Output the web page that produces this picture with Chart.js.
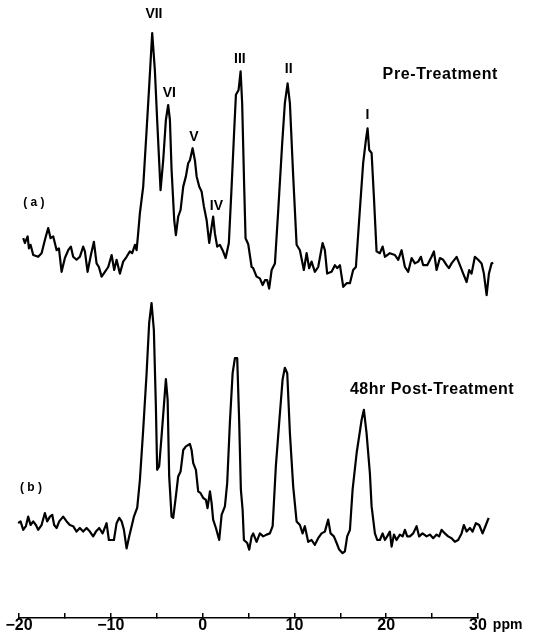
<!DOCTYPE html>
<html>
<head>
<meta charset="utf-8">
<script src="https://cdn.jsdelivr.net/npm/chart.js@4/dist/chart.umd.min.js"></script>
<style>
html,body{margin:0;padding:0;background:#fff;}
canvas{display:block;}
</style>
</head>
<body>
<canvas id="c" width="543" height="641"></canvas>
<script>
// Chemical shift (ppm) and intensity (arbitrary units, baseline ~0) for spectrum (a) Pre-Treatment
const ppmA = [-19.54,-19.36,-19.06,-18.92,-18.74,-18.45,-17.91,-17.54,-17.18,-16.82,-16.56,-16.27,-15.90,-15.65,-15.36,-15.00,-14.64,-14.35,-14.10,-13.73,-13.37,-13.01,-12.82,-12.53,-12.17,-11.84,-11.55,-11.30,-11.00,-10.64,-10.28,-9.91,-9.63,-9.37,-9.01,-8.65,-8.28,-7.92,-7.67,-7.37,-7.19,-7.02,-6.83,-6.47,-6.10,-5.82,-5.49,-5.20,-4.95,-4.58,-4.29,-4.00,-3.75,-3.56,-3.38,-3.09,-2.91,-2.66,-2.40,-2.11,-1.82,-1.57,-1.38,-1.09,-0.84,-0.65,-0.37,-0.11,0.14,0.44,0.72,0.98,1.15,1.34,1.59,1.88,2.18,2.51,2.86,3.16,3.41,3.63,3.92,4.14,4.31,4.53,4.68,4.97,5.34,5.51,5.88,6.24,6.54,6.79,7.04,7.25,7.52,7.88,8.24,8.67,8.96,9.26,9.51,9.87,10.24,10.60,11.03,11.33,11.61,11.87,12.23,12.59,13.07,13.32,13.57,14.05,14.41,14.66,14.96,15.32,15.69,16.05,16.40,16.70,17.13,17.49,17.79,17.97,18.15,18.41,18.66,18.95,19.31,19.61,19.86,20.40,20.95,21.31,21.68,22.04,22.40,22.77,23.13,23.49,23.78,24.03,24.47,24.94,25.20,25.49,25.85,26.21,26.58,26.83,27.12,27.67,28.03,28.39,28.76,29.04,29.30,29.66,30.02,30.39,30.64,30.94,31.19,31.48,31.66];
const intA = [3.3,2.5,3.6,1.6,2.2,0.5,0.2,0.8,3.0,5.0,3.3,3.6,1.3,1.6,-2.3,0.0,1.3,1.9,0.2,-0.3,0.2,1.9,1.1,-2.3,0.5,2.7,-0.9,-1.5,-3.1,-2.3,-1.5,0.5,-2.0,-0.3,-2.6,-0.6,0.2,1.1,0.8,2.2,1.3,4.1,7.5,11.9,21.3,28.6,37.5,31.3,23.0,11.3,16.3,23.0,25.5,23.0,14.7,6.3,3.8,6.9,8.0,11.9,13.6,15.8,16.3,18.3,16.3,13.6,11.9,11.1,8.6,6.3,2.5,5.2,6.9,4.1,1.9,2.2,1.3,0.0,2.5,11.9,20.2,27.2,28.0,31.1,25.8,11.9,3.3,2.3,-1.5,-1.7,-3.1,-3.4,-4.5,-3.7,-3.7,-5.1,-2.0,-0.9,8.0,19.1,25.8,29.1,25.8,13.6,2.2,1.3,-2.0,0.8,-1.7,-0.6,-2.3,-1.5,2.5,1.3,-2.6,-2.3,-1.2,-1.7,-1.2,-4.8,-4.2,-4.2,-2.0,-1.5,8.0,15.8,19.7,21.6,18.0,17.5,10.2,1.1,0.8,1.9,0.2,0.8,0.5,-0.3,1.3,-1.5,-2.3,0.0,-0.9,-0.6,0.2,-1.2,-1.2,0.2,1.1,-2.0,0.0,-0.3,-1.2,-1.7,-0.9,0.2,-1.2,-2.6,-4.0,-2.0,-2.6,0.2,-0.3,-0.9,-2.6,-6.2,-2.6,-0.9,-0.8];

// Spectrum (b) 48 hr Post-Treatment
const ppmB = [-20.09,-19.83,-19.54,-19.25,-19.00,-18.74,-18.45,-18.16,-17.91,-17.54,-17.18,-16.93,-16.63,-16.38,-16.17,-15.90,-15.62,-15.19,-14.81,-14.46,-14.10,-13.73,-13.37,-13.01,-12.64,-12.28,-11.92,-11.62,-11.26,-10.89,-10.46,-10.21,-9.66,-9.37,-9.08,-8.82,-8.57,-8.28,-8.00,-7.73,-7.48,-7.12,-6.83,-6.47,-6.10,-5.82,-5.56,-5.31,-5.09,-4.95,-4.73,-4.47,-4.22,-4.00,-3.81,-3.64,-3.38,-3.20,-2.91,-2.66,-2.40,-2.11,-1.82,-1.38,-1.20,-1.02,-0.73,-0.48,-0.22,0.07,0.36,0.54,0.80,0.98,1.15,1.45,1.81,2.07,2.43,2.68,2.97,3.27,3.52,3.77,3.99,4.17,4.36,4.50,4.86,5.08,5.34,5.51,5.88,6.24,6.60,6.97,7.33,7.63,7.98,8.34,8.71,8.96,9.22,9.51,9.87,10.24,10.60,10.89,11.14,11.50,11.87,12.23,12.59,12.96,13.32,13.68,13.94,14.30,14.60,14.88,15.25,15.50,15.75,16.05,16.34,16.78,17.32,17.57,17.86,18.22,18.41,18.77,19.02,19.31,19.61,19.86,20.11,20.40,20.59,20.84,21.13,21.49,21.79,22.04,22.29,22.58,22.94,23.31,23.59,23.96,24.40,24.76,25.12,25.49,25.77,26.03,26.39,26.75,27.12,27.48,27.84,28.21,28.46,28.76,29.12,29.41,29.77,30.13,30.50,30.86,31.16];
const intB = [1.1,1.4,0.0,0.6,2.2,0.8,1.4,0.8,0.0,0.8,2.8,1.4,2.2,2.5,0.8,0.3,1.4,2.2,1.4,0.8,0.6,-0.3,0.3,-0.3,0.3,-0.3,-1.1,-0.3,0.3,-0.6,1.1,-1.7,-1.7,1.1,2.0,1.4,0.0,-3.1,-1.1,0.6,2.2,3.7,8.3,16.7,26.1,34.5,37.8,33.3,20.6,10.0,10.6,15.6,20.6,25.1,21.7,8.9,2.2,2.0,5.6,8.9,9.7,13.3,13.9,14.3,13.3,11.1,10.0,6.4,6.1,5.3,5.0,3.6,6.4,4.5,1.7,0.3,-1.7,2.5,3.9,7.8,17.8,26.1,28.6,28.6,17.8,6.7,3.3,-1.7,-2.2,-3.3,-1.1,-0.6,-2.0,-0.6,-1.1,-0.8,-0.6,0.6,10.6,17.8,25.0,27.0,26.1,16.1,7.2,1.4,0.8,-0.6,0.6,-2.0,-1.7,-2.5,-1.4,-0.6,-0.3,1.7,-0.6,-1.1,-2.2,-3.3,-3.9,-3.6,-1.1,0.0,6.7,12.8,18.3,20.0,16.1,9.5,3.9,-0.6,-1.7,-1.7,-0.6,-1.7,-1.1,-0.3,-2.8,-0.8,-1.7,-0.8,-1.1,0.0,-1.1,-1.1,-0.6,0.6,-1.1,-0.6,-1.1,-0.8,-1.4,-0.8,-1.1,0.0,-0.6,-1.1,-1.4,-2.0,-1.7,-0.6,0.8,-0.3,0.3,-0.3,1.1,0.8,-0.6,0.8,2.0];

// vertical offsets used to stack the two traces
const OFFSET_A = 60;
const OFFSET_B = 14.7;

// x axis
const X_MIN = -20, X_MAX = 30, X_STEP = 5;
const xLabelValues = [-20, -10, 0, 10, 20, 30];

// text annotations (data units)
const peakLabels = ['VII','VI','V','IV','III','II','I'];
const peakLabelPpm = [-5.3, -3.62, -0.95, 1.5, 4.06, 9.38, 17.97];
const peakLabelY = [100.7, 87.4, 80.2, 68.6, 93.2, 91.5, 83.75];

const annotations = [];
peakLabels.forEach((t, i) => annotations.push({text: t, x: peakLabelPpm[i], y: peakLabelY[i], font: 'bold 14px "Liberation Sans"', align: 'center', spacing: '0px'}));
annotations.push({text: 'Pre-Treatment', x: 19.61, y: 90.6, font: 'bold 16px "Liberation Sans"', align: 'left', spacing: '0.6px'});
annotations.push({text: '48hr Post-Treatment', x: 16.05, y: 38, font: 'bold 16px "Liberation Sans"', align: 'left', spacing: '0.5px'});
annotations.push({text: '( a )', x: -18.38, y: 69.25, font: 'bold 12px "Liberation Sans"', align: 'center', spacing: '0px'});
annotations.push({text: '( b )', x: -18.7, y: 21.75, font: 'bold 12px "Liberation Sans"', align: 'center', spacing: '0px'});
annotations.push({text: 'ppm', x: 31.62, y: -1.2, font: 'bold 14px "Liberation Sans"', align: 'left', spacing: '0px'});

const textPlugin = {
  id: 'textLabels',
  afterDraw(chart) {
    const ctx = chart.ctx;
    const xs = chart.scales.x, ys = chart.scales.y;
    ctx.save();
    ctx.fillStyle = '#000';
    ctx.textBaseline = 'middle';
    annotations.forEach(a => {
      ctx.font = a.font;
      ctx.textAlign = a.align;
      if ('letterSpacing' in ctx) ctx.letterSpacing = a.spacing;
      ctx.fillText(a.text, xs.getPixelForValue(a.x), ys.getPixelForValue(a.y));
    });
    ctx.restore();
  }
};

const dsA = ppmA.map((x, i) => ({x: x, y: intA[i] + OFFSET_A}));
const dsB = ppmB.map((x, i) => ({x: x, y: intB[i] + OFFSET_B}));

new Chart(document.getElementById('c'), {
  type: 'line',
  data: {
    datasets: [
      {label: 'Pre-Treatment', data: dsA, borderColor: '#000', borderWidth: 2.2, pointRadius: 0, tension: 0, clip: false, borderJoinStyle: 'round'},
      {label: '48hr Post-Treatment', data: dsB, borderColor: '#000', borderWidth: 2.2, pointRadius: 0, tension: 0, clip: false, borderJoinStyle: 'round'}
    ]
  },
  options: {
    responsive: false,
    animation: false,
    devicePixelRatio: 1,
    layout: {padding: {left: 19, right: 65, top: 18, bottom: 6}},
    plugins: {legend: {display: false}, tooltip: {enabled: false}},
    scales: {
      x: {
        type: 'linear',
        afterDataLimits(scale) { scale.min = X_MIN; scale.max = X_MAX; },
        afterFit(scale) { scale.height = 17; },
        border: {display: true, color: '#000', width: 1.5},
        grid: {drawOnChartArea: false, drawTicks: true, tickLength: -5, color: '#000', lineWidth: 1.5},
        ticks: {
          stepSize: X_STEP,
          autoSkip: false,
          maxRotation: 0,
          padding: 3,
          color: '#000',
          font: {family: 'Liberation Sans', weight: 'bold', size: 16},
          callback: (v) => xLabelValues.includes(v) ? (v < 0 ? '\u2212' + Math.abs(v) : String(v)) : ''
        }
      },
      y: {
        type: 'linear',
        display: false,
        min: 0,
        max: 100
      }
    }
  },
  plugins: [textPlugin]
});
</script>
</body>
</html>
